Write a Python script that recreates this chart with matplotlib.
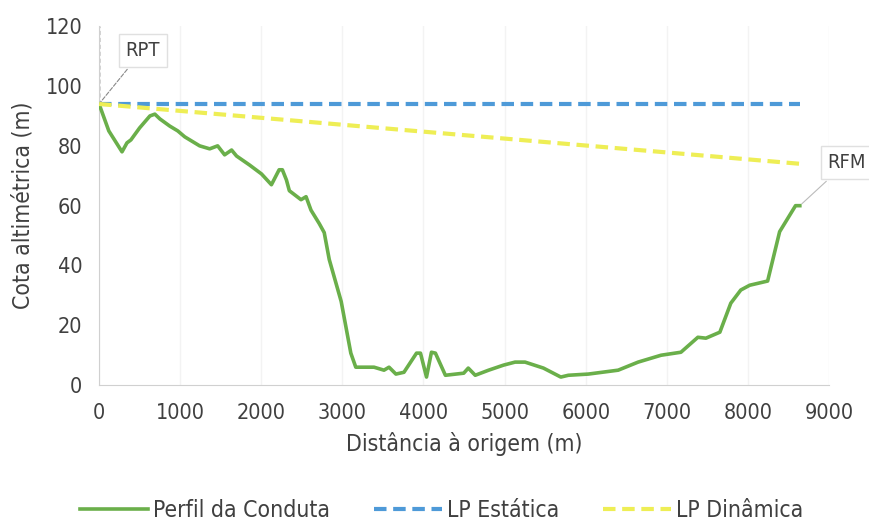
import numpy as np
import matplotlib.pyplot as plt

# distance along pipe (m) and ground elevation (m)
dist = [0, 120, 283, 344, 393, 500, 627, 688, 750, 872, 970, 1057, 1240, 1364,
        1462, 1548, 1634, 1695, 1855, 2003, 2125, 2220, 2260, 2310, 2346, 2490,
        2552, 2613, 2715, 2776, 2838, 2985, 3104, 3165, 3390, 3513, 3575, 3660,
        3759, 3914, 3963, 4037, 4098, 4147, 4270, 4496, 4552, 4638, 4803, 4988,
        5129, 5252, 5479, 5693, 5786, 6032, 6400, 6646, 6929, 7174, 7383, 7482,
        7654, 7789, 7912, 8022, 8243, 8391, 8587, 8640]
elev = [94, 85, 78, 81, 82, 86, 90, 90.6, 89, 86.6, 85, 83, 80, 79,
        80, 77, 78.6, 76.6, 73.6, 70.6, 67, 72, 72, 68.6, 65, 62,
        63, 58.5, 54, 51, 42, 28, 10.7, 6, 6, 5, 6, 3.7,
        4.3, 10.7, 10.7, 2.7, 11, 10.7, 3.3, 4, 5.7, 3.3, 5, 6.7,
        7.7, 7.7, 5.7, 2.7, 3.3, 3.7, 5, 7.7, 10, 11, 16, 15.7,
        17.7, 27.4, 31.8, 33.4, 34.8, 51.3, 60, 60]

lp_est_x = [0, 8640]
lp_est_y = [94, 94]
lp_din_x = [0, 8640]
lp_din_y = [94, 74]

text_col = '#404040'
plt.rcParams['font.family'] = ['DejaVu Sans']
plt.rcParams['font.stretch'] = 'condensed'

fig = plt.figure(figsize=(8.69, 5.24), dpi=100)
ax = fig.add_axes([0.114, 0.265, 0.84, 0.685])

ax.plot(dist, elev, color='#6aaf4a', lw=2.6, label='Perfil da Conduta', zorder=3)
ax.plot(lp_est_x, lp_est_y, color='#4e9ad8', lw=3, ls=(0, (3, 1.6)),
        label='LP Estática', zorder=4)
ax.plot(lp_din_x, lp_din_y, color='#eeee55', lw=3, ls=(0, (3, 1.6)),
        label='LP Dinâmica', zorder=4)

# faint dark dashed line above the origin
ax.plot([0, 0], [94, 120], color='#333333', lw=1, ls=(0, (3, 2)), zorder=2)

ax.set_xlim(0, 9000)
ax.set_ylim(0, 120)
ax.set_xticks(np.arange(0, 9001, 1000))
ax.set_yticks(np.arange(0, 121, 20))
ax.xaxis.grid(True, color='#f3f3f3', lw=1)
ax.set_axisbelow(True)

for s in ['top', 'right']:
    ax.spines[s].set_visible(False)
ax.spines['left'].set_color('#d0d0d0')
ax.spines['bottom'].set_color('#d0d0d0')
ax.tick_params(length=0, labelsize=15.5, colors=text_col)
ax.tick_params(axis='y', pad=12)
ax.tick_params(axis='x', pad=13)

ax.set_xlabel('Distância à origem (m)', fontsize=16.5, color=text_col, labelpad=6)
ax.set_ylabel('Cota altimétrica (m)', fontsize=16.5, color=text_col, labelpad=8)

box = dict(boxstyle='square,pad=0.35', fc='white', ec='#e0e0e0', lw=1)
ax.annotate('RPT', xy=(0, 94), xytext=(540, 112), fontsize=14.5, color=text_col,
            ha='center', va='center', bbox=box,
            arrowprops=dict(arrowstyle='-', color='#888888', lw=0.8, ls='--'))
ax.annotate('RFM', xy=(8640, 60), xytext=(9220, 74.5), fontsize=14.5, color=text_col,
            ha='center', va='center', bbox=box, annotation_clip=False,
            arrowprops=dict(arrowstyle='-', color='#bbbbbb', lw=0.8))

fig.legend(loc='lower center', bbox_to_anchor=(0.508, -0.035), ncol=3, frameon=False,
           fontsize=16.5, handlelength=3.0, handletextpad=0.2, columnspacing=1.9,
           labelcolor=text_col)

fig.savefig('out.png', dpi=100)
